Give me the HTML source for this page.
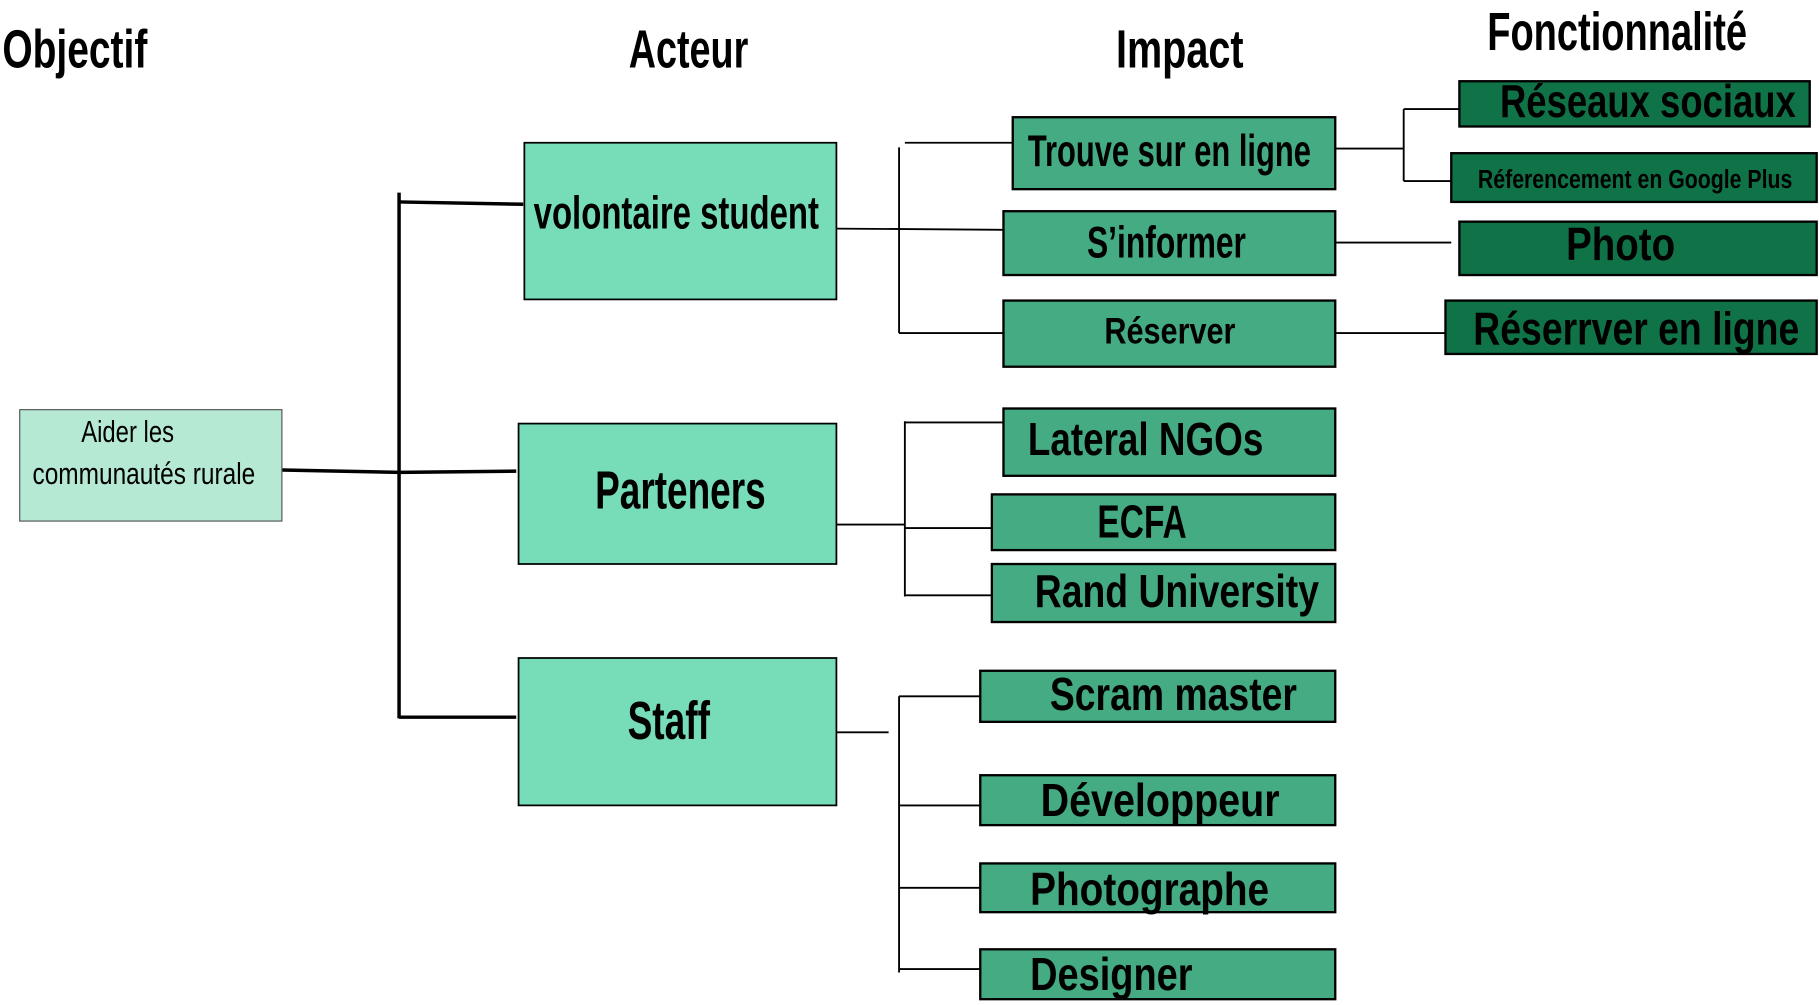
<!DOCTYPE html>
<html><head><meta charset="utf-8"><style>
html,body{margin:0;padding:0;background:#fff;}
svg{display:block}
text{font-family:"Liberation Sans Narrow","Liberation Sans",sans-serif;font-weight:bold;fill:#000;}
</style></head><body>
<svg width="1819" height="1005" viewBox="0 0 1568 866" preserveAspectRatio="none" xmlns="http://www.w3.org/2000/svg">
<g font-size="46">
<text x="2" y="58" textLength="125" lengthAdjust="spacingAndGlyphs">Objectif</text>
<text x="542" y="58" textLength="103" lengthAdjust="spacingAndGlyphs">Acteur</text>
<text x="962" y="58" textLength="110" lengthAdjust="spacingAndGlyphs">Impact</text>
<text x="1282" y="43" textLength="224" lengthAdjust="spacingAndGlyphs">Fonctionnalité</text>
</g>
<g stroke="#000" stroke-width="3" fill="none">
<polyline points="243,405 344,407 445,406"/>
<line x1="344" y1="166" x2="344" y2="619"/>
<line x1="344" y1="174" x2="451" y2="176"/>
<line x1="344" y1="618" x2="445" y2="618"/>
</g>
<g stroke="#000" stroke-width="1.6" fill="none">
<line x1="721" y1="197" x2="865" y2="198"/>
<line x1="775" y1="127" x2="775" y2="287"/>
<line x1="780" y1="123" x2="873" y2="123"/>
<line x1="775" y1="287" x2="865" y2="287"/>
<line x1="1151" y1="128" x2="1210" y2="128"/>
<line x1="1210" y1="94" x2="1210" y2="156"/>
<line x1="1210" y1="94" x2="1258" y2="94"/>
<line x1="1210" y1="156" x2="1251" y2="156"/>
<line x1="1151" y1="209" x2="1251" y2="209"/>
<line x1="1151" y1="287" x2="1246" y2="287"/>
<line x1="721" y1="452" x2="780" y2="452"/>
<line x1="780" y1="363" x2="780" y2="514"/>
<line x1="780" y1="364" x2="865" y2="364"/>
<line x1="780" y1="455" x2="855" y2="455"/>
<line x1="780" y1="513" x2="855" y2="513"/>
<line x1="721" y1="631" x2="766" y2="631"/>
<line x1="775" y1="600" x2="775" y2="838"/>
<line x1="775" y1="600" x2="845" y2="600"/>
<line x1="775" y1="694" x2="845" y2="694"/>
<line x1="775" y1="765" x2="845" y2="765"/>
<line x1="775" y1="835" x2="845" y2="835"/>
</g>
<g stroke="#000" stroke-width="1.5">
<rect x="17" y="353" width="226" height="96" fill="#b6e9d3" stroke="#555" stroke-width="1"/>
<rect x="452" y="123" width="269" height="135" fill="#77ddb9"/>
<rect x="447" y="365" width="274" height="121" fill="#77ddb9"/>
<rect x="447" y="567" width="274" height="127" fill="#77ddb9"/>
<g fill="#45ab83" stroke-width="2">
<rect x="873" y="101" width="278" height="62"/>
<rect x="865" y="182" width="286" height="55"/>
<rect x="865" y="259" width="286" height="57"/>
<rect x="865" y="352" width="286" height="58"/>
<rect x="855" y="426" width="296" height="48"/>
<rect x="855" y="486" width="296" height="50"/>
<rect x="845" y="578" width="306" height="44"/>
<rect x="845" y="668" width="306" height="43"/>
<rect x="845" y="744" width="306" height="42"/>
<rect x="845" y="818" width="306" height="43"/>
</g>
<g fill="#0f7347" stroke-width="2">
<rect x="1258" y="70" width="302" height="39"/>
<rect x="1251" y="132" width="315" height="42"/>
<rect x="1258" y="191" width="308" height="46"/>
<rect x="1246" y="259" width="320" height="46"/>
</g>
</g>
<text x="70" y="381" font-size="26" textLength="80" lengthAdjust="spacingAndGlyphs" style="font-weight:normal">Aider les</text>
<text x="28" y="417" font-size="26" textLength="192" lengthAdjust="spacingAndGlyphs" style="font-weight:normal">communautés rurale</text>
<text x="460" y="197" font-size="40" textLength="246" lengthAdjust="spacingAndGlyphs">volontaire student</text>
<text x="513" y="438" font-size="46" textLength="147" lengthAdjust="spacingAndGlyphs">Parteners</text>
<text x="541" y="637" font-size="46" textLength="71" lengthAdjust="spacingAndGlyphs">Staff</text>
<g>
<text x="886" y="143" font-size="38" textLength="244" lengthAdjust="spacingAndGlyphs">Trouve sur en ligne</text>
<text x="937" y="222" font-size="38" textLength="137" lengthAdjust="spacingAndGlyphs">S’informer</text>
<text x="952" y="296" font-size="32" textLength="113" lengthAdjust="spacingAndGlyphs">Réserver</text>
<text x="886" y="392" font-size="40" textLength="203" lengthAdjust="spacingAndGlyphs">Lateral NGOs</text>
<text x="946" y="463" font-size="40" textLength="77" lengthAdjust="spacingAndGlyphs">ECFA</text>
<text x="892" y="523" font-size="40" textLength="245" lengthAdjust="spacingAndGlyphs">Rand University</text>
<text x="905" y="612" font-size="40" textLength="213" lengthAdjust="spacingAndGlyphs">Scram master</text>
<text x="897" y="703" font-size="40" textLength="206" lengthAdjust="spacingAndGlyphs">Développeur</text>
<text x="888" y="780" font-size="40" textLength="206" lengthAdjust="spacingAndGlyphs">Photographe</text>
<text x="888" y="853" font-size="40" textLength="140" lengthAdjust="spacingAndGlyphs">Designer</text>
<text x="1293" y="101" font-size="40" textLength="255" lengthAdjust="spacingAndGlyphs">Réseaux sociaux</text>
<text x="1274" y="162" font-size="22" textLength="271" lengthAdjust="spacingAndGlyphs">Réferencement en Google Plus</text>
<text x="1350" y="224" font-size="40" textLength="94" lengthAdjust="spacingAndGlyphs">Photo</text>
<text x="1270" y="297" font-size="40" textLength="281" lengthAdjust="spacingAndGlyphs">Réserrver en ligne</text>
</g>
</svg>
</body></html>
